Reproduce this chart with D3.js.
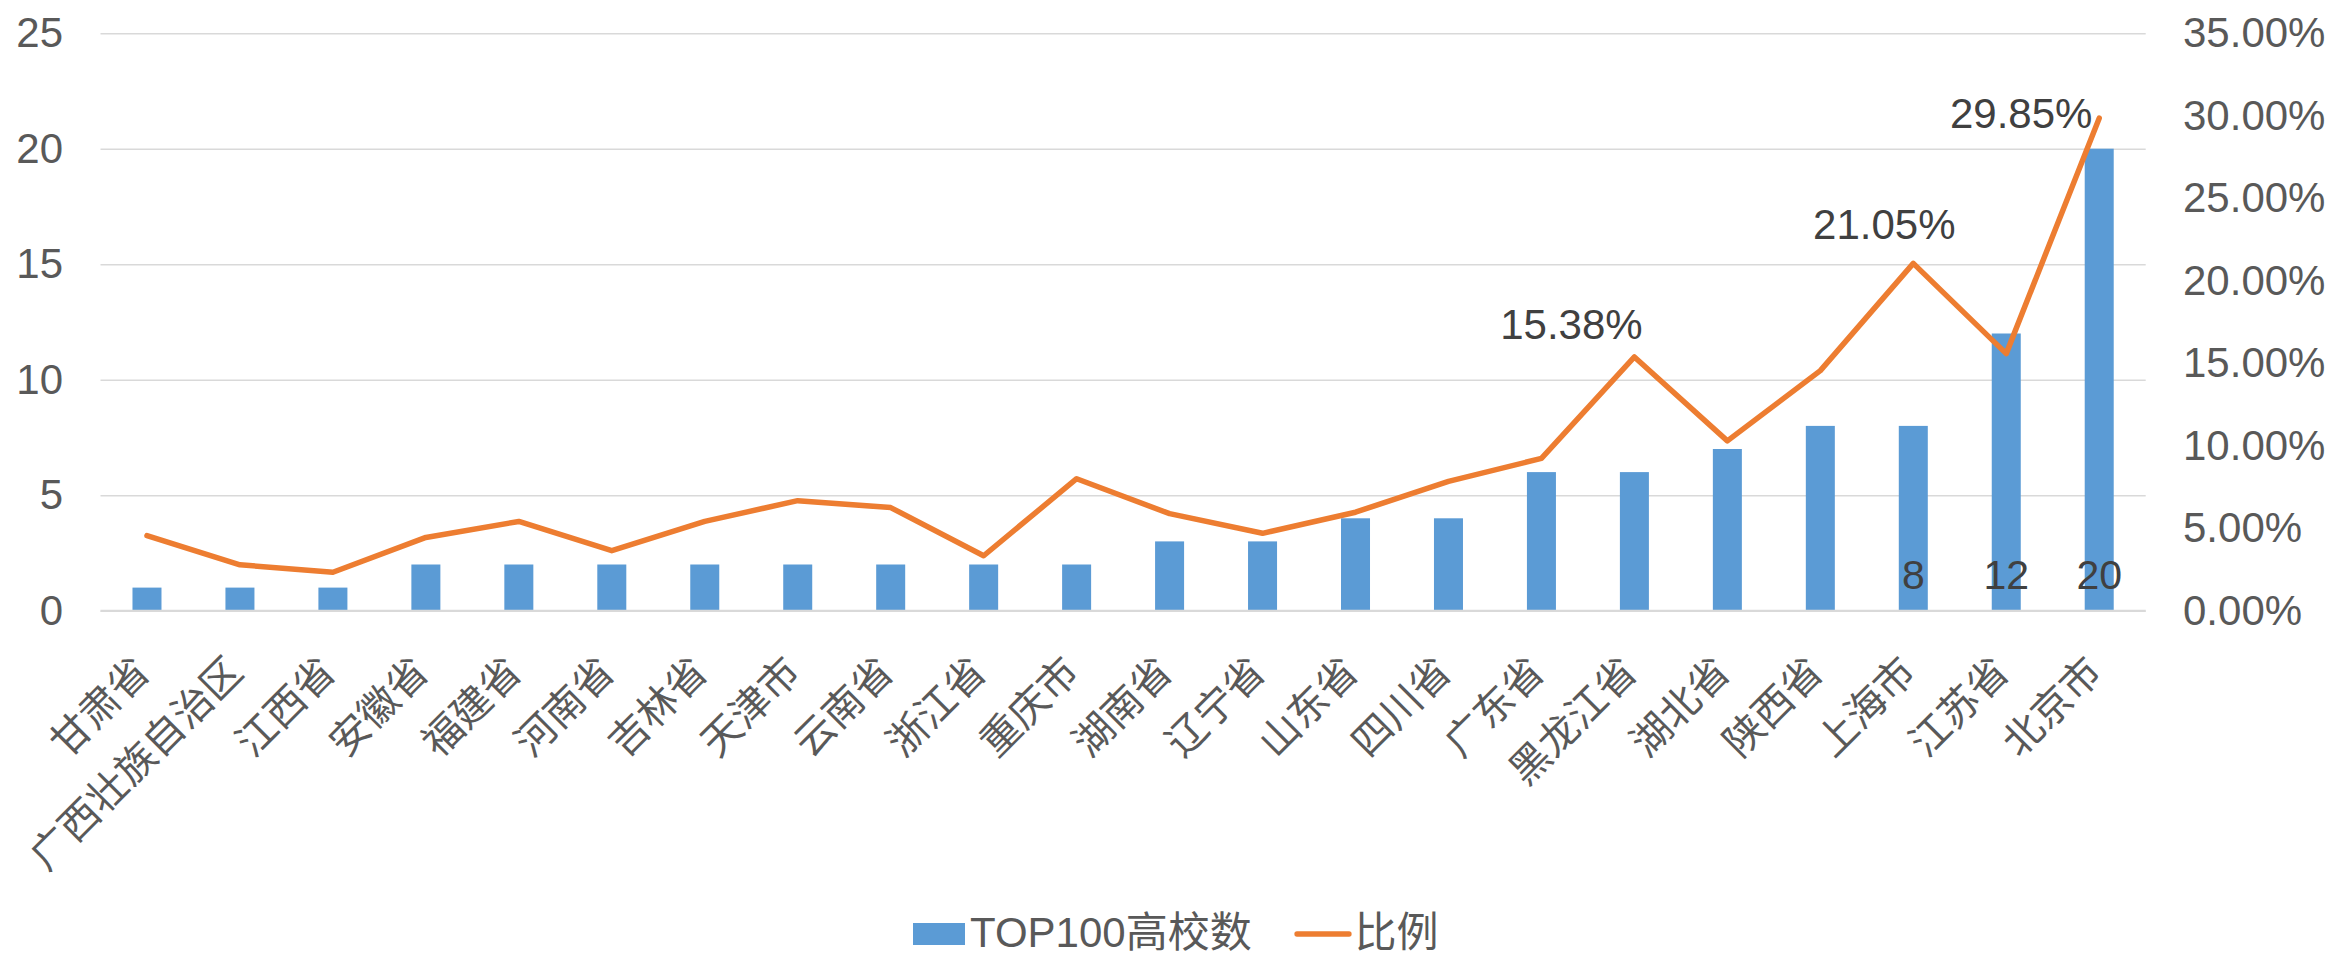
<!DOCTYPE html>
<html>
<head>
<meta charset="utf-8">
<script src="https://cdn.jsdelivr.net/npm/d3@7/dist/d3.min.js"></script>
<style>
  html, body { margin: 0; padding: 0; background: #ffffff; }
  svg { display: block; }
  text { font-family: "Liberation Sans", Arial, "Noto Sans CJK SC", sans-serif; }
</style>
</head>
<body>
<svg id="chart" width="2333" height="957"></svg>
<script>
// ---------- data ----------
const categories = ["甘肃省","广西壮族自治区","江西省","安徽省","福建省","河南省","吉林省","天津市","云南省","浙江省","重庆市","湖南省","辽宁省","山东省","四川省","广东省","黑龙江省","湖北省","陕西省","上海市","江苏省","北京市"];
const top100Counts = [1,1,1,2,2,2,2,2,2,2,2,3,3,4,4,6,6,7,8,8,12,20];
const ratios = [0.0455,0.0278,0.0233,0.0444,0.0541,0.0364,0.0541,0.0667,0.0625,0.0333,0.0800,0.0588,0.0469,0.0597,0.0784,0.0923,0.1538,0.1029,0.1455,0.2105,0.1558,0.2985];
const leftTicks = [0,5,10,15,20,25];
const rightTicks = [0,0.05,0.10,0.15,0.20,0.25,0.30,0.35];
const ratioLabelIdx = [16,19,21];
const countLabelIdx = [19,20,21];
const seriesNames = ["TOP100高校数","比例"];

// ---------- layout ----------
const W = 2333, H = 957;
const plot = {left: 100.5, right: 2145.7, top: 33.2, bottom: 610.7};
const ratioLabelOffsets = [[-63,-18],[-29,-24],[-78,9.5]];
const colors = {bar: "#5b9bd5", line: "#ed7d31", grid: "#d9d9d9", tick: "#595959", label: "#404040"};

const svg = d3.select("#chart");
svg.append("rect").attr("width", W).attr("height", H).attr("fill", "#fff");

const x = d3.scaleBand().domain(categories).range([plot.left, plot.right])
  .paddingInner(0.688).paddingOuter(0.344);
const yL = d3.scaleLinear().domain([0,25]).range([plot.bottom, plot.top]);
const yR = d3.scaleLinear().domain([0,0.35]).range([plot.bottom, plot.top]);
const cx = d => x(d) + x.bandwidth()/2;

// gridlines
const grid = svg.append("g").attr("transform", `translate(${plot.left},0)`)
  .call(d3.axisLeft(yL).tickValues(leftTicks).tickSize(-(plot.right-plot.left)).tickFormat(""));
grid.select(".domain").remove();
grid.selectAll("line").attr("stroke", colors.grid).attr("stroke-width", 1.6);

// left axis labels
const axL = svg.append("g").attr("transform", `translate(${plot.left},0)`)
  .call(d3.axisLeft(yL).tickValues(leftTicks).tickSize(0).tickPadding(37.5).tickFormat(d3.format("d")));
axL.select(".domain").remove();
axL.selectAll("text").attr("font-size", 42).attr("fill", colors.tick)
  .style("font-family", '"Liberation Sans", Arial, sans-serif');

// right axis labels
const axR = svg.append("g").attr("transform", `translate(${plot.right},0)`)
  .call(d3.axisRight(yR).tickValues(rightTicks).tickSize(0).tickPadding(37.3).tickFormat(d3.format(".2%")));
axR.select(".domain").remove();
axR.selectAll("text").attr("font-size", 42).attr("fill", colors.tick)
  .style("font-family", '"Liberation Sans", Arial, sans-serif');

// bars
svg.append("g").selectAll("rect").data(categories).join("rect")
  .attr("x", d => x(d))
  .attr("y", (d,i) => yL(top100Counts[i]))
  .attr("width", x.bandwidth())
  .attr("height", (d,i) => yL(0) - yL(top100Counts[i]))
  .attr("fill", colors.bar);

// x axis baseline
svg.append("line").attr("x1", plot.left).attr("x2", plot.right)
  .attr("y1", yL(0)).attr("y2", yL(0)).attr("stroke", colors.grid).attr("stroke-width", 2);

// category labels
const axB = svg.append("g").attr("transform", `translate(0,${plot.bottom})`)
  .call(d3.axisBottom(x).tickSize(0));
axB.select(".domain").remove();
axB.selectAll("text")
  .attr("x", 0).attr("y", 0).attr("dy", 0)
  .attr("text-anchor", "end")
  .attr("transform", "translate(5,63.5) rotate(-45)")
  .attr("font-size", 40).attr("fill", colors.tick)
  .style("font-family", '"Noto Sans CJK SC", sans-serif');

// line
const line = d3.line().x((d,i) => cx(categories[i])).y(d => yR(d));
svg.append("path").datum(ratios).attr("d", line)
  .attr("fill", "none").attr("stroke", colors.line).attr("stroke-width", 5.5)
  .attr("stroke-linejoin", "round").attr("stroke-linecap", "round");

// ratio data labels
svg.append("g").selectAll("text").data(ratioLabelIdx).join("text")
  .attr("x", (d,k) => cx(categories[d]) + ratioLabelOffsets[k][0])
  .attr("y", (d,k) => yR(ratios[d]) + ratioLabelOffsets[k][1])
  .attr("text-anchor", "middle").attr("font-size", 42).attr("fill", colors.label)
  .text(d => d3.format(".2%")(ratios[d]));

// count data labels (inside base)
svg.append("g").selectAll("text").data(countLabelIdx).join("text")
  .attr("x", d => cx(categories[d]))
  .attr("y", yL(0) - 22)
  .attr("text-anchor", "middle").attr("font-size", 41).attr("fill", colors.label)
  .text(d => top100Counts[d]);

// legend
const lg = svg.append("g");
lg.append("rect").attr("x", 913).attr("y", 923).attr("width", 52).attr("height", 22).attr("fill", colors.bar);
lg.append("text").attr("x", 970).attr("y", 947).attr("font-size", 42).attr("fill", colors.tick).text(seriesNames[0]);
lg.append("line").attr("x1", 1297).attr("x2", 1349).attr("y1", 934).attr("y2", 934)
  .attr("stroke", colors.line).attr("stroke-width", 5.3).attr("stroke-linecap", "round");
lg.append("text").attr("x", 1354.5).attr("y", 947).attr("font-size", 42).attr("fill", colors.tick).text(seriesNames[1]);
</script>
</body>
</html>
